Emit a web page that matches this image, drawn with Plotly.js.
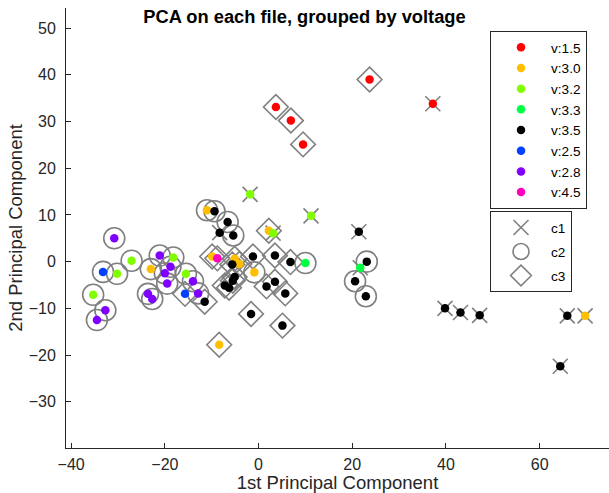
<!DOCTYPE html>
<html>
<head>
<meta charset="utf-8">
<script src="https://cdn.plot.ly/plotly-3.0.1.min.js"></script>
<style>
  html, body { margin: 0; padding: 0; background: #fff; }
  #chart { width: 609px; height: 493px; }
</style>
</head>
<body>
<div id="chart"></div>
<script>
// PCA scores per file: first and second principal component,
// the supply voltage of the file and the cluster it fell into.
const pc1 = [
  3.7, 6.9, 9.5, 23.7, 37.2,
  -11.0, -9.9, 2.2, -5.1, -4.1, -0.9, -23.0, -8.4, 69.7,
  -1.8, 11.2, 3.1, -27.1, -30.2, -35.3, -18.2, -15.5,
  10.0, 21.7,
  -9.4, -6.6, -8.3, -5.4, 21.4, -5.6, -1.2, 3.5, 6.8, -5.1, -5.5, -7.2, -6.3,
  3.5, 1.7, 5.7, -11.5, -1.6, 5.1, 23.1, 20.6, 22.9, 39.8, 43.1, 47.2, 65.9, 64.4,
  -33.2, -15.7,
  -30.8, -21.1, -18.8, -20.0, -19.5, -23.6, -22.7, -14.0, -12.9, -32.7, -34.5,
  -8.8
];
const pc2 = [
  33.1, 30.2, 25.1, 39.0, 33.8,
  11.0, 1.1, 6.6, 0.6, -0.5, -2.3, -1.6, -17.8, -11.6,
  14.4, 9.8, 6.1, 0.2, -2.6, -7.1, 0.9, -2.6,
  -0.3, -1.3,
  10.8, 8.5, 6.2, 5.6, 6.4, -0.6, 1.1, 1.3, -0.1, -3.3, -4.1, -5.1, -5.6,
  -4.3, -5.3, -6.8, -8.6, -11.2, -13.7, 0.0, -4.2, -7.4, -10.0, -10.9, -11.5, -11.6, -22.4,
  -2.2, -6.9,
  5.0, 1.3, -1.1, -2.5, -4.7, -6.9, -8.0, -4.2, -6.8, -10.4, -12.5,
  0.7
];
const voltage = [
  '1.5', '1.5', '1.5', '1.5', '1.5',
  '3.0', '3.0', '3.0', '3.0', '3.0', '3.0', '3.0', '3.0', '3.0',
  '3.2', '3.2', '3.2', '3.2', '3.2', '3.2', '3.2', '3.2',
  '3.3', '3.3',
  '3.5', '3.5', '3.5', '3.5', '3.5', '3.5', '3.5', '3.5', '3.5', '3.5', '3.5', '3.5', '3.5',
  '3.5', '3.5', '3.5', '3.5', '3.5', '3.5', '3.5', '3.5', '3.5', '3.5', '3.5', '3.5', '3.5', '3.5',
  '2.5', '2.5',
  '2.8', '2.8', '2.8', '2.8', '2.8', '2.8', '2.8', '2.8', '2.8', '2.8', '2.8',
  '4.5'
];
const cluster = [
  'c3', 'c3', 'c3', 'c3', 'c1',
  'c2', 'c3', 'c3', 'c3', 'c3', 'c2', 'c2', 'c3', 'c1',
  'c1', 'c1', 'c1', 'c2', 'c2', 'c2', 'c2', 'c2',
  'c2', 'c1',
  'c2', 'c2', 'c1', 'c2', 'c1', 'c3', 'c3', 'c3', 'c3', 'c3', 'c3', 'c3', 'c3',
  'c3', 'c3', 'c3', 'c3', 'c3', 'c3', 'c2', 'c2', 'c2', 'c1', 'c1', 'c1', 'c1', 'c1',
  'c2', 'c3',
  'c2', 'c2', 'c2', 'c2', 'c2', 'c2', 'c2', 'c2', 'c2', 'c2', 'c2',
  'c3'
];

// legend order and colours of the voltage groups (hsv-like palette)
const voltageOrder = ['1.5', '3.0', '3.2', '3.3', '3.5', '2.5', '2.8', '4.5'];
const voltageColors = ['#FF0000', '#FFBF00', '#80FF00', '#00FF40', '#000000', '#0040FF', '#8000FF', '#FF00BF'];
const clusterOrder = ['c1', 'c2', 'c3'];
const clusterSymbols = ['x-thin-open', 'circle-open', 'diamond-open'];
const clusterSizes = [15, 21, 19];

function pick(arr, mask) { return arr.filter((_, i) => mask[i]); }

const traces = [];

// grey outline markers showing the cluster of each point
clusterOrder.forEach((c, k) => {
  const mask = cluster.map(v => v === c);
  traces.push({
    type: 'scatter', mode: 'markers',
    x: pick(pc1, mask), y: pick(pc2, mask),
    name: c, legend: 'legend2', legendgroup: c,
    marker: { symbol: clusterSymbols[k], size: clusterSizes[k], color: '#808080',
              line: { width: 1.6, color: '#808080' } },
    hoverinfo: 'x+y+name'
  });
});

// filled dots coloured by voltage
voltageOrder.forEach((v, k) => {
  const mask = voltage.map(u => u === v);
  traces.push({
    type: 'scatter', mode: 'markers',
    x: pick(pc1, mask), y: pick(pc2, mask),
    name: 'v:' + v, legend: 'legend',
    marker: { symbol: 'circle', size: 8.5, color: voltageColors[k] },
    hoverinfo: 'x+y+name'
  });
});

const axisColor = '#262626';
const fontFamily = '"Liberation Sans", Arial, Helvetica, sans-serif';

const layout = {
  width: 609, height: 493,
  margin: { l: 66, r: 0, t: 8, b: 45 },
  paper_bgcolor: '#ffffff', plot_bgcolor: '#ffffff',
  font: { family: fontFamily, size: 16, color: axisColor },
  showlegend: true,
  title: {
    text: '<b>PCA on each file, grouped by voltage</b>',
    font: { family: fontFamily, size: 18.3, color: '#000000' },
    xref: 'container', yref: 'container',
    x: 0.5, xanchor: 'center', y: 1 - 17 / 493, yanchor: 'middle'
  },
  xaxis: {
    range: [-41.1, 74.8],
    tickvals: [-40, -20, 0, 20, 40, 60],
    ticks: 'inside', ticklen: 5, tickcolor: axisColor, tickwidth: 1,
    showline: true, linecolor: axisColor, linewidth: 1, mirror: false,
    showgrid: false, zeroline: false,
    tickfont: { size: 16, color: axisColor },
    ticklabelstandoff: 2,
    title: { text: '1st Principal Component', font: { size: 18.5, color: axisColor }, standoff: 0 }
  },
  yaxis: {
    range: [-39.9, 54.3],
    tickvals: [-30, -20, -10, 0, 10, 20, 30, 40, 50],
    ticks: 'inside', ticklen: 5, tickcolor: axisColor, tickwidth: 1,
    showline: true, linecolor: axisColor, linewidth: 1, mirror: false,
    showgrid: false, zeroline: false,
    tickfont: { size: 16, color: axisColor },
    ticklabelstandoff: 6,
    title: { text: '2nd Principal Component', font: { size: 18.5, color: axisColor }, standoff: 1 }
  },
  legend: {
    x: (490 - 66) / 543, y: (448.3 - 31) / 440.3, xanchor: 'left', yanchor: 'top',
    xref: 'paper', yref: 'paper',
    bgcolor: '#ffffff', bordercolor: axisColor, borderwidth: 1,
    font: { size: 13.6, color: '#000000' },
    itemwidth: 50
  },
  legend2: {
    x: (490 - 66) / 543, y: (448.3 - 211.3) / 440.3, xanchor: 'left', yanchor: 'top',
    xref: 'paper', yref: 'paper',
    bgcolor: '#ffffff', bordercolor: axisColor, borderwidth: 1,
    font: { size: 13.6, color: '#000000' },
    itemwidth: 50, tracegroupgap: 3.3
  }
};

Plotly.newPlot('chart', traces, layout, { displayModeBar: false, responsive: false });
</script>
</body>
</html>
